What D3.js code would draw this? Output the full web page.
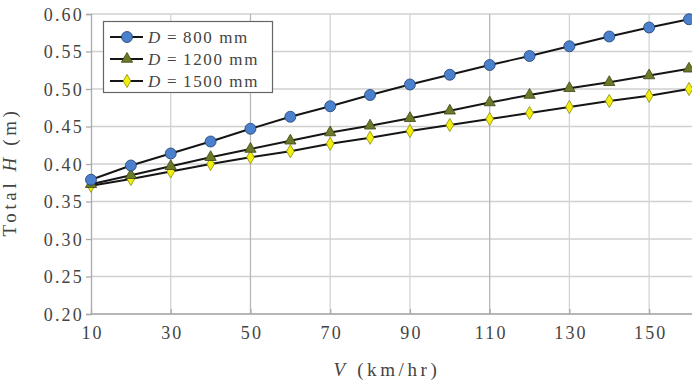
<!DOCTYPE html>
<html><head><meta charset="utf-8">
<script src="https://cdn.jsdelivr.net/npm/d3@7/dist/d3.min.js"></script>
<style>body{margin:0;background:#fff}svg{display:block}text{font-family:"Liberation Serif","DejaVu Serif",serif}</style>
</head><body><svg id="c" width="692" height="381"></svg>
<script>
const speeds = [10,20,30,40,50,60,70,80,90,100,110,120,130,140,150,160];
const h800  = [0.379,0.398,0.414,0.430,0.447,0.463,0.477,0.492,0.506,0.519,0.532,0.544,0.557,0.570,0.582,0.593];
const h1200 = [0.373,0.385,0.397,0.409,0.420,0.431,0.442,0.451,0.461,0.471,0.482,0.492,0.501,0.509,0.518,0.527];
const h1500 = [0.371,0.380,0.390,0.400,0.409,0.417,0.427,0.435,0.444,0.452,0.460,0.468,0.476,0.484,0.491,0.500];
const xTicks = [10,30,50,70,90,110,130,150];
const yTicks = [0.20,0.25,0.30,0.35,0.40,0.45,0.50,0.55,0.60];
const seriesNames = ["800","1200","1500"];

const svg = d3.select("#c");
const L=91, R=689, T=14, B=314;
const x = d3.scaleLinear().domain([10,160]).range([L,R]);
const y = d3.scaleLinear().domain([0.20,0.60]).range([B,T]);
const txt = "#444";

// grid
svg.append("g").selectAll("line").data(yTicks).join("line")
  .attr("x1",L).attr("x2",692).attr("y1",d=>y(d)).attr("y2",d=>y(d))
  .attr("stroke","#d0d0d0").attr("stroke-width",1.3);
svg.append("g").selectAll("line").data(xTicks.slice(1)).join("line")
  .attr("x1",d=>x(d)).attr("x2",d=>x(d)).attr("y1",T).attr("y2",B)
  .attr("stroke",d=>(d===50||d===110)?"#b8b8b8":"#d4d4d4").attr("stroke-width",1.3);

// axes
const yAxis = svg.append("g").attr("transform",`translate(${L},0)`)
  .call(d3.axisLeft(y).tickValues(yTicks).tickFormat(d3.format(".2f")).tickSize(5).tickPadding(2));
const xAxis = svg.append("g").attr("transform",`translate(0,${B})`)
  .call(d3.axisBottom(x).tickValues(xTicks).tickSize(5).tickPadding(6));
[yAxis,xAxis].forEach(a=>{
  a.select(".domain").attr("stroke","#aaa").attr("stroke-width",1.3);
  a.selectAll(".tick line").attr("stroke","#aaa").attr("stroke-width",1.3);
  a.selectAll("text").attr("fill",txt).attr("font-size",18).attr("letter-spacing",2.2);
});
yAxis.selectAll("text").attr("dy","0.36em");
xAxis.selectAll("text").attr("dx","1.1").attr("dy","0.78em");
xAxis.selectAll(".tick line").attr("y1",-5).attr("y2",0);
xAxis.select(".domain").attr("d",`M${L},0H692`);

// axis labels
const yl = svg.append("text").attr("transform",`translate(16,172) rotate(-90)`)
  .attr("text-anchor","middle").attr("fill",txt).attr("font-size",19).attr("letter-spacing",3.6);
yl.append("tspan").text("Total ");
yl.append("tspan").attr("font-style","italic").text("H");
yl.append("tspan").text(" (m)");
const xl = svg.append("text").attr("x",387).attr("y",376)
  .attr("text-anchor","middle").attr("fill",txt).attr("font-size",19).attr("letter-spacing",3.6);
xl.append("tspan").attr("font-style","italic").text("V");
xl.append("tspan").text(" (km/hr)");

const series = [
  {name:seriesNames[0], vals:h800, type:"circle"},
  {name:seriesNames[1], vals:h1200, type:"triangle"},
  {name:seriesNames[2], vals:h1500, type:"diamond"}
];
const markerStyle = {
  circle:{sym:d3.symbolCircle,size:95,fill:"#4a80cc",stroke:"#1f3f6e"},
  triangle:{sym:d3.symbolTriangle,size:55,fill:"#6a7a28",stroke:"#3c4514"},
  diamond:{sym:d3.symbolDiamond,size:50,fill:"#f2ee10",stroke:"#8a8a00"}
};
const line = d3.line().x((d,i)=>x(speeds[i])).y(d=>y(d));
[2,1,0].forEach(k=>{
  const s = series[k], m = markerStyle[s.type];
  const g = svg.append("g");
  g.append("path").attr("d",line(s.vals)).attr("fill","none").attr("stroke","#151515").attr("stroke-width",1.9);
  g.selectAll("path.m").data(s.vals).join("path").attr("class","m")
    .attr("transform",(d,i)=>`translate(${x(speeds[i])},${y(d)})`)
    .attr("d",d3.symbol(m.sym,m.size)).attr("fill",m.fill).attr("stroke",m.stroke).attr("stroke-width",0.8);
});

// legend
const lg = svg.append("g");
lg.append("rect").attr("x",103.5).attr("y",21.5).attr("width",169).attr("height",71)
  .attr("fill","#fff").attr("stroke","#666").attr("stroke-width",1.2);
series.forEach((s,i)=>{
  const m = markerStyle[s.type];
  const yy = 37 + i*22;
  lg.append("line").attr("x1",110).attr("x2",143).attr("y1",yy).attr("y2",yy).attr("stroke","#151515").attr("stroke-width",2);
  lg.append("path").attr("transform",`translate(127,${yy})`).attr("d",d3.symbol(m.sym,m.size)())
    .attr("fill",m.fill).attr("stroke",m.stroke).attr("stroke-width",0.8);
  const t = lg.append("text").attr("x",148).attr("y",yy+5.5).attr("fill",txt).attr("font-size",17).attr("letter-spacing",1.6);
  t.append("tspan").attr("font-style","italic").text("D");
  t.append("tspan").text("\u2009=\u2009"+s.name+"  mm");
});
</script></body></html>
